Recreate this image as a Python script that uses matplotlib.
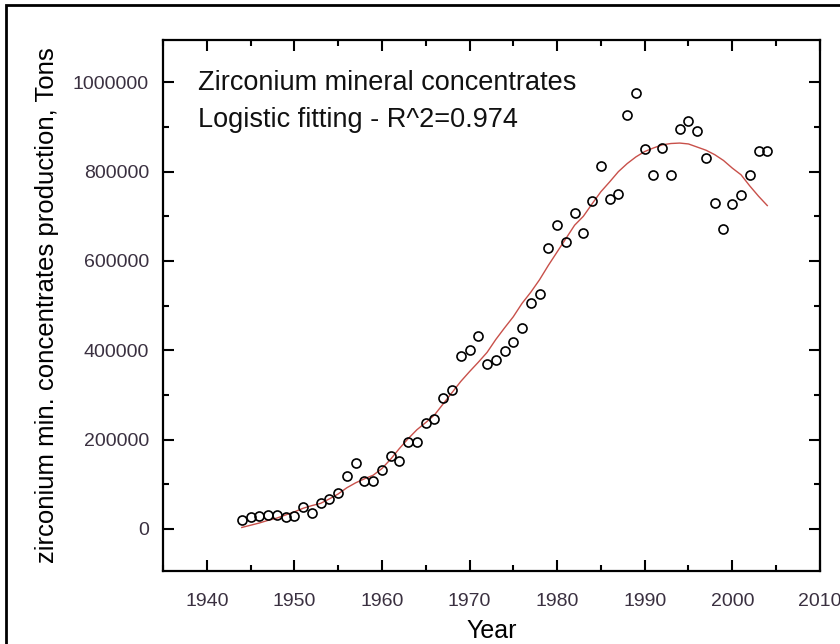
import matplotlib
matplotlib.use('Agg')
import matplotlib.pyplot as plt
from matplotlib.patches import Rectangle
from matplotlib.ticker import MultipleLocator

plt.rcParams['font.family'] = ['Liberation Sans', 'DejaVu Sans']

# observed production (tons), one point per year 1944-2004
years = list(range(1944, 2005))
production = [
    20000, 26000, 29000, 31000, 30000, 26000, 29000, 48000, 36000, 57000,
    67000, 80000, 119000, 148000, 108000, 106000, 132000, 162000, 152000, 195000,
    194000, 238000, 245000, 294000, 311000, 387000, 400000, 431000, 370000, 379000,
    399000, 419000, 450000, 505000, 525000, 629000, 681000, 642000, 708000, 663000,
    734000, 812000, 739000, 750000, 926000, 976000, 850000, 793000, 853000, 793000,
    896000, 914000, 892000, 830000, 730000, 672000, 728000, 748000, 793000, 846000,
    847000,
]

# fitted curve, same years
fit = [
    3000, 8000, 13000, 19000, 24000, 31000, 38000, 46000, 52000, 57000,
    67000, 78000, 92000, 103000, 112000, 120000, 135000, 156000, 180000, 202000,
    222000, 238000, 255000, 280000, 305000, 330000, 352000, 373000, 395000, 424000,
    450000, 475000, 505000, 530000, 558000, 590000, 620000, 650000, 680000, 700000,
    728000, 755000, 777000, 800000, 818000, 833000, 845000, 853000, 860000, 863000,
    864000, 862000, 855000, 848000, 838000, 825000, 808000, 793000, 768000, 745000,
    724000,
]

fig = plt.figure(figsize=(8.4, 6.44), dpi=100)
ax = fig.add_axes([0.194, 0.113, 0.782, 0.825])

ax.plot(years, fit, color='#c8504a', lw=1.0, zorder=2)
ax.plot(years, production, 'o', ms=6.5, mfc='none', mec='black', mew=1.2, zorder=3)

ax.set_xlim(1935, 2010)
ax.set_ylim(-95000, 1095000)
ax.xaxis.set_major_locator(MultipleLocator(10))
ax.xaxis.set_minor_locator(MultipleLocator(5))
ax.yaxis.set_major_locator(MultipleLocator(200000))
ax.yaxis.set_minor_locator(MultipleLocator(100000))
ax.yaxis.set_major_formatter(matplotlib.ticker.FormatStrFormatter('%d'))

ax.tick_params(which='both', direction='in', top=True, right=True, width=1.5,
               labelsize=14, labelcolor='#3a3040')
ax.tick_params(axis='y', pad=10)
ax.tick_params(axis='x', pad=16)
ax.tick_params(which='major', length=8)
ax.tick_params(which='minor', length=4)
for s in ax.spines.values():
    s.set_linewidth(1.6)

ax.set_xlabel('Year', fontsize=18, labelpad=6)
ax.set_ylabel('zirconium min. concentrates production, Tons', fontsize=18.5, labelpad=10)

ax.text(0.053, 0.918, 'Zirconium mineral concentrates', transform=ax.transAxes,
        fontsize=19.5, va='center', color='#111111')
ax.text(0.053, 0.850, 'Logistic fitting - R^2=0.974', transform=ax.transAxes,
        fontsize=19.5, va='center', color='#111111')

# frame around the whole picture (cut at the right/bottom like the original)
fig.patches.append(Rectangle((6 / 840, -0.05), 1.2, 0.05 + 1 - 5 / 644,
                             transform=fig.transFigure, fill=False,
                             lw=2, ec='black'))

fig.savefig('out.png', dpi=100)
